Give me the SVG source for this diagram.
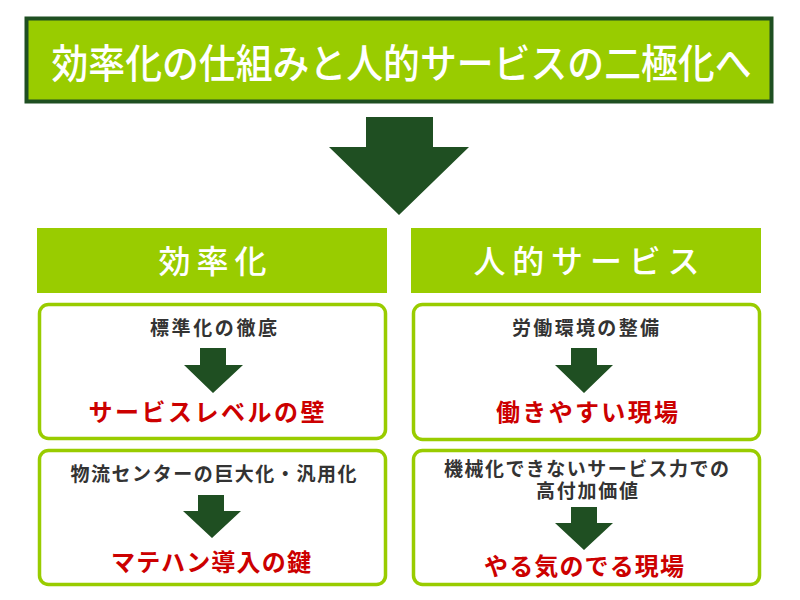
<svg xmlns="http://www.w3.org/2000/svg" width="800" height="600" viewBox="0 0 800 600">
<style>
  text { font-family: "Noto Sans CJK JP", "Noto Sans", sans-serif; text-anchor: middle; }
  .title { fill: #ffffff; font-size: 40px; font-weight: 500; }
  .head { fill: #ffffff; font-size: 32px; font-weight: 500; }
  .body { fill: #333333; font-size: 19px; font-weight: 700; }
  .red { fill: #cc0000; font-size: 24px; font-weight: 700; }
  .hbox { fill: #99cc00; }
  .box { fill: #ffffff; stroke: #99cc00; stroke-width: 3.5; }
  .arrow { fill: #1f4f22; }
</style>
<rect width="800" height="600" fill="#ffffff"/>

<g id="title">
  <rect x="26.5" y="18.5" width="745" height="83" fill="#99cc00" stroke="#1f4f22" stroke-width="4"/>
  <text class="title" x="401.5" y="78" textLength="700" lengthAdjust="spacingAndGlyphs">効率化の仕組みと人的サービスの二極化へ</text>
</g>

<g id="header-efficiency">
  <rect class="hbox" x="37" y="228" width="350" height="65"/>
  <text class="head" x="212.5" y="273" textLength="108" lengthAdjust="spacing">効率化</text>
</g>

<g id="header-human">
  <rect class="hbox" x="411" y="228" width="350" height="65"/>
  <text class="head" x="586.5" y="273" textLength="226" lengthAdjust="spacing">人的サービス</text>
</g>

<g id="box-standardization">
  <rect class="box" x="39.5" y="304.5" width="346" height="134" rx="9"/>
  <text class="body" x="213.5" y="335" textLength="127" lengthAdjust="spacing">標準化の徹底</text>
  <text class="red" x="206.5" y="421" textLength="236" lengthAdjust="spacing">サービスレベルの壁</text>
</g>

<g id="box-logistics">
  <rect class="box" x="39.5" y="450.5" width="346" height="134" rx="9"/>
  <text class="body" x="213.5" y="481" textLength="286" lengthAdjust="spacing">物流センターの巨大化・汎用化</text>
  <text class="red" x="211" y="571" textLength="200" lengthAdjust="spacing">マテハン導入の鍵</text>
</g>

<g id="box-workenv">
  <rect class="box" x="413.5" y="304.5" width="346" height="135" rx="9"/>
  <text class="body" x="585.5" y="335" textLength="147" lengthAdjust="spacing">労働環境の整備</text>
  <text class="red" x="587" y="421" textLength="182" lengthAdjust="spacing">働きやすい現場</text>
</g>

<g id="box-value">
  <rect class="box" x="413.5" y="450.5" width="346" height="134" rx="9"/>
  <text class="body" x="586.5" y="476" textLength="285" lengthAdjust="spacing">機械化できないサービス力での</text>
  <text class="body" x="587" y="498" textLength="102" lengthAdjust="spacing">高付加価値</text>
  <text class="red" x="584" y="575" textLength="200" lengthAdjust="spacing">やる気のでる現場</text>
</g>

<g id="connectors">
  <polygon class="arrow" points="366,117 433,117 433,147 469,147 399,215 329,147 366,147"/>
  <polygon class="arrow" points="200,348 226,348 226,365 243,365 213,393 184,365 200,365"/>
  <polygon class="arrow" points="198,495 224,495 224,511 241,511 212,538 183,511 198,511"/>
  <polygon class="arrow" points="571,348 597,348 597,365 613,365 584,393 555,365 571,365"/>
  <polygon class="arrow" points="571,507 597,507 597,523 613,523 584,550 555,523 571,523"/>
</g>
</svg>
